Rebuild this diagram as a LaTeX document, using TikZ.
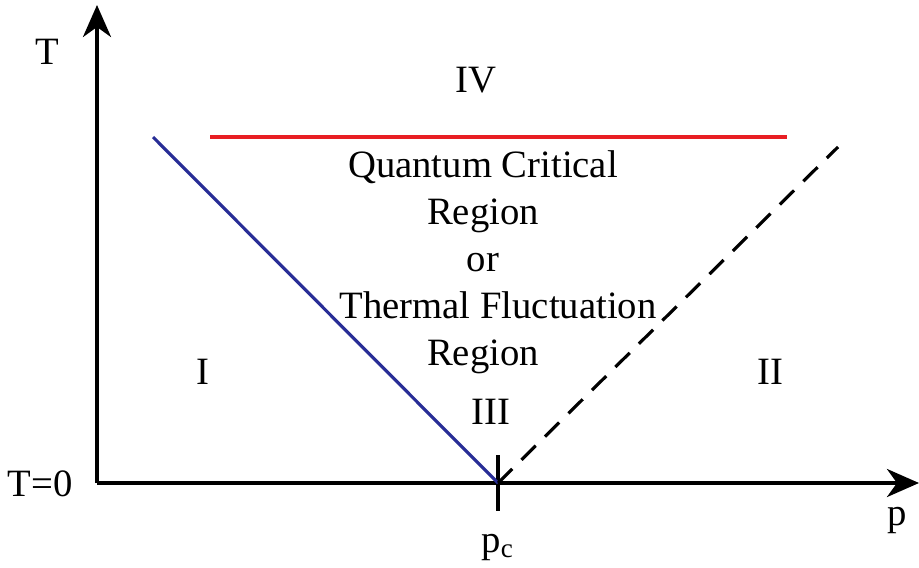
\documentclass[tikz,border=0pt]{standalone}
\usepackage{fontspec}
\setmainfont{Liberation Serif}
\usetikzlibrary{arrows.meta}

\definecolor{lineblue}{RGB}{40,45,150}
\definecolor{linered}{RGB}{232,30,35}

\begin{document}
\begin{tikzpicture}[
    x=0.01cm, y=-0.01cm,
    axis/.style={line width=1.1pt, -{Stealth[length=3.2mm, width=2.8mm, inset=1mm]}},
    border/.style={line width=0.9pt},
    lbl/.style={font=\fontsize{11}{13.4}\selectfont, inner sep=0pt, align=center}
]
\useasboundingbox (0,0) rectangle (919,567);

% Axes
\coordinate (O) at (97,483);
\coordinate (Ttip) at (97,5);
\coordinate (ptip) at (919,483);
\draw[axis] (O) -- (Ttip);
\draw[axis] (O) -- (ptip);

% Critical point
\coordinate (pc) at (498,483);
\coordinate (pcup) at (498,455);
\coordinate (pcdown) at (498,511);
\draw[line width=1pt] (pcup) -- (pcdown);

% Crossover lines
\coordinate (bluetop) at (153,137);
\coordinate (redleft) at (210,137);
\coordinate (redright) at (787,137);
\coordinate (dashtop) at (838,147);
\draw[border, lineblue] (bluetop) -- (pc);
\draw[border, linered, line width=1.1pt] (redleft) -- (redright);
\draw[border, dash pattern=on 2mm off 1.3mm] (pc) -- (dashtop);

% Labels
\node[lbl] (Tlbl) at (47,52) {T};
\node[lbl] (T0) at (40,484) {T=0};
\node[lbl] (plbl) at (897,520) {p};
\node[lbl] (pclbl) at (498,547) {p\textsubscript{c}};
\node[lbl] (IV) at (476,80) {IV};
\node[lbl] (I) at (203,372) {I};
\node[lbl] (II) at (770,372) {II};
\node[lbl] (III) at (491,412) {III};
\node[lbl] (qcr) at (483,262) {Quantum Critical\\Region\\or\\\hspace*{3mm}Thermal Fluctuation\\Region};

\end{tikzpicture}
\end{document}
